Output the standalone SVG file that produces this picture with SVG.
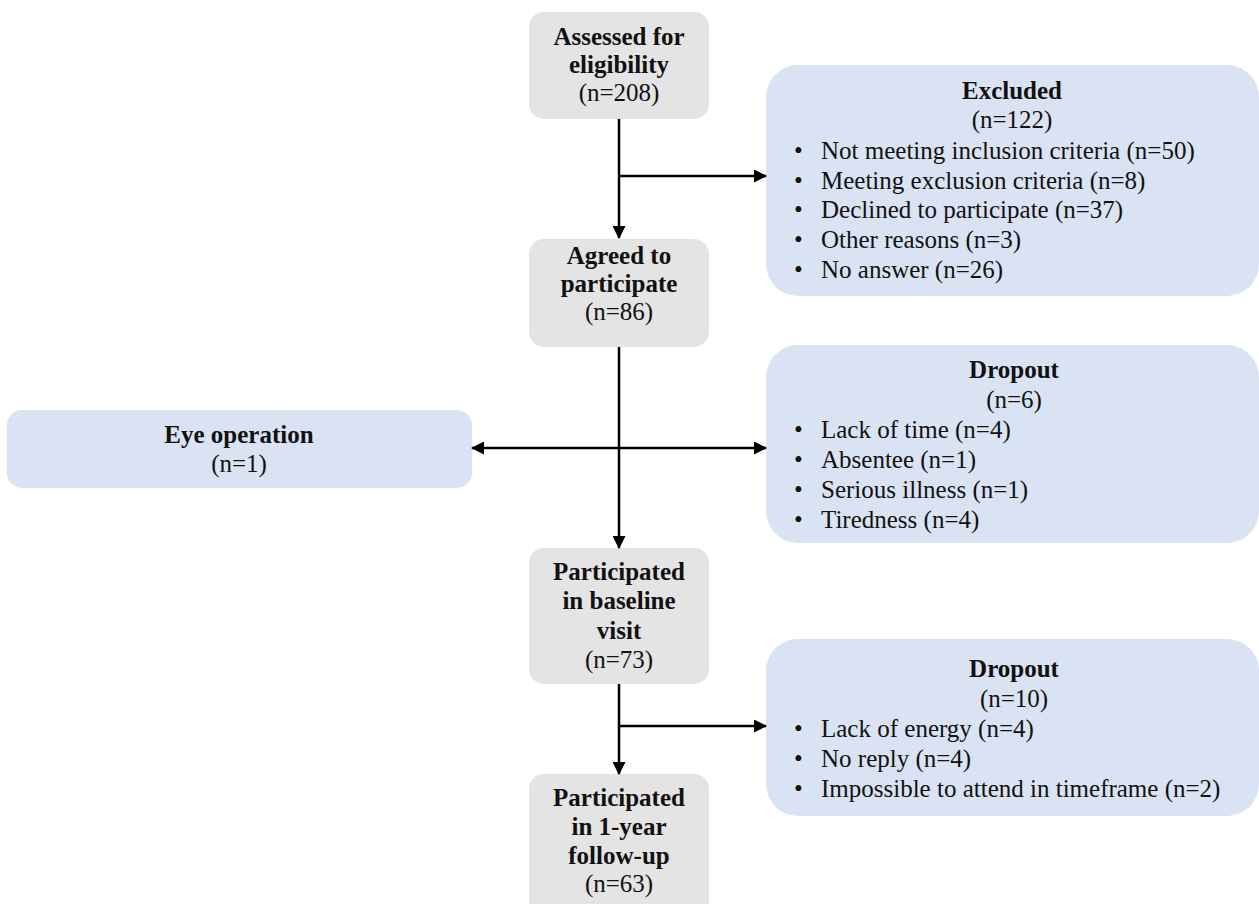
<svg xmlns="http://www.w3.org/2000/svg" width="1259" height="904" viewBox="0 0 1259 904">
<style>
.gray{fill:#e4e4e4;}
.blue{fill:#dae3f3;}
text{font-family:"Liberation Serif","Times New Roman",serif;font-size:25px;fill:#111;}
.b{font-weight:bold;}
.c{text-anchor:middle;}
.conn line{stroke:#000;stroke-width:2.5;}
</style>
<defs>
<marker id="arr" markerWidth="13" markerHeight="13" refX="12" refY="6.5" orient="auto-start-reverse" markerUnits="userSpaceOnUse">
<path d="M0,0 L13,6.5 L0,13 Z" fill="#000"/>
</marker>
</defs>
<rect width="1259" height="904" fill="#fff"/>

<g id="assessed">
<rect class="gray" x="529" y="12" width="180" height="107" rx="15"/>
<text class="b c" x="619" y="45">Assessed for</text>
<text class="b c" x="619" y="73">eligibility</text>
<text class="c" x="619" y="101">(n=208)</text>
</g>

<g id="excluded">
<rect class="blue" x="766" y="65" width="493" height="231" rx="32"/>
<text class="b c" x="1012" y="99">Excluded</text>
<text class="c" x="1012" y="128">(n=122)</text>
<text x="794" y="159">•</text><text x="821" y="159">Not meeting inclusion criteria (n=50)</text>
<text x="794" y="189">•</text><text x="821" y="189">Meeting exclusion criteria (n=8)</text>
<text x="794" y="218">•</text><text x="821" y="218">Declined to participate (n=37)</text>
<text x="794" y="248">•</text><text x="821" y="248">Other reasons (n=3)</text>
<text x="794" y="278">•</text><text x="821" y="278">No answer (n=26)</text>
</g>

<g id="agreed">
<rect class="gray" x="529" y="239" width="180" height="108" rx="15"/>
<text class="b c" x="619" y="264">Agreed to</text>
<text class="b c" x="619" y="292">participate</text>
<text class="c" x="619" y="320">(n=86)</text>
</g>

<g id="eye">
<rect class="blue" x="7" y="410" width="465" height="78" rx="15"/>
<text class="b c" x="239" y="443">Eye operation</text>
<text class="c" x="239" y="472">(n=1)</text>
</g>

<g id="dropout1">
<rect class="blue" x="766" y="345" width="493" height="198" rx="32"/>
<text class="b c" x="1014" y="378">Dropout</text>
<text class="c" x="1014" y="408">(n=6)</text>
<text x="794" y="438">•</text><text x="821" y="438">Lack of time (n=4)</text>
<text x="794" y="468">•</text><text x="821" y="468">Absentee (n=1)</text>
<text x="794" y="498">•</text><text x="821" y="498">Serious illness (n=1)</text>
<text x="794" y="528">•</text><text x="821" y="528">Tiredness (n=4)</text>
</g>

<g id="baseline">
<rect class="gray" x="529" y="548" width="180" height="136" rx="15"/>
<text class="b c" x="619" y="580">Participated</text>
<text class="b c" x="619" y="609">in baseline</text>
<text class="b c" x="619" y="639">visit</text>
<text class="c" x="619" y="668">(n=73)</text>
</g>

<g id="dropout2">
<rect class="blue" x="766" y="639" width="493" height="177" rx="32"/>
<text class="b c" x="1014" y="677">Dropout</text>
<text class="c" x="1014" y="707">(n=10)</text>
<text x="794" y="737">•</text><text x="821" y="737">Lack of energy (n=4)</text>
<text x="794" y="767">•</text><text x="821" y="767">No reply (n=4)</text>
<text x="794" y="797">•</text><text x="821" y="797">Impossible to attend in timeframe (n=2)</text>
</g>

<g id="followup">
<rect class="gray" x="529" y="774" width="180" height="150" rx="15"/>
<text class="b c" x="619" y="806">Participated</text>
<text class="b c" x="619" y="835">in 1-year</text>
<text class="b c" x="619" y="864">follow-up</text>
<text class="c" x="619" y="892">(n=63)</text>
</g>

<g id="connectors" class="conn">
<line x1="619" y1="119" x2="619" y2="238" marker-end="url(#arr)"/>
<line x1="619" y1="176" x2="766" y2="176" marker-end="url(#arr)"/>
<line x1="619" y1="347" x2="619" y2="548" marker-end="url(#arr)"/>
<line x1="472" y1="448" x2="766" y2="448" marker-start="url(#arr)" marker-end="url(#arr)"/>
<line x1="619" y1="684" x2="619" y2="774" marker-end="url(#arr)"/>
<line x1="619" y1="726" x2="766" y2="726" marker-end="url(#arr)"/>
</g>
</svg>
